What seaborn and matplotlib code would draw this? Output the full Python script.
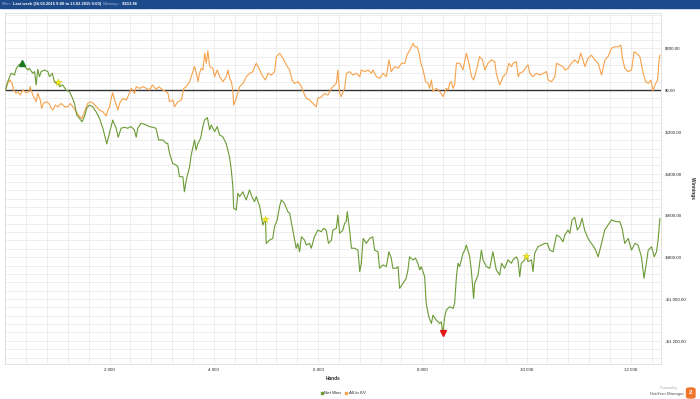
import matplotlib
matplotlib.use("Agg")
import matplotlib.pyplot as plt
import matplotlib.ticker as mticker
from matplotlib.lines import Line2D
from matplotlib.patches import Rectangle, FancyBboxPatch
import seaborn as sns
import pandas as pd

# Net Won (green) - hands / winnings
net_hands = [0, 45, 110, 175, 210, 260, 315, 365, 430, 460, 525, 560, 590, 620, 655, 685, 750, 815, 845, 900,
             940, 975, 1005, 1040, 1100, 1165, 1230, 1290, 1325, 1370, 1420, 1470, 1515, 1560, 1610, 1675, 1740,
             1805, 1870, 1945, 1995, 2060, 2125, 2165, 2220, 2285, 2345, 2410, 2475, 2510, 2540, 2605, 2700, 2765,
             2825, 2890, 2940, 3020, 3085, 3115, 3150, 3210, 3275, 3310, 3340, 3405, 3435, 3470, 3535, 3565, 3630,
             3660, 3695, 3745, 3790, 3820, 3875, 3920, 3950, 4015, 4065, 4110, 4170, 4235, 4300, 4335, 4365, 4380,
             4430, 4460, 4495, 4555, 4620, 4685, 4730, 4780, 4815, 4880, 4940, 4990, 5005, 5070, 5130, 5165, 5215,
             5260, 5295, 5355, 5420, 5455, 5515, 5550, 5580, 5610, 5645, 5680, 5740, 5775, 5835, 5870, 5930, 5995,
             6060, 6110, 6155, 6200, 6255, 6285, 6350, 6380, 6415, 6475, 6510, 6540, 6560, 6605, 6640, 6705, 6765,
             6800, 6830, 6865, 6925, 6990, 7050, 7085, 7150, 7180, 7245, 7310, 7360, 7405, 7435, 7500, 7535, 7565,
             7630, 7690, 7725, 7755, 7820, 7870, 7915, 7950, 7980, 8045, 8075, 8125, 8175, 8205, 8270, 8335, 8365,
             8395, 8430, 8460, 8525, 8590, 8620, 8655, 8685, 8715, 8750, 8780, 8815, 8845, 8910, 8940, 8985, 9005,
             9070, 9135, 9165, 9230, 9295, 9355, 9420, 9485, 9520, 9580, 9645, 9710, 9740, 9805, 9835, 9870, 9900,
             9965, 9985, 10030, 10095, 10125, 10155, 10220, 10285, 10350, 10400, 10445, 10510, 10575, 10635, 10700,
             10735, 10795, 10830, 10875, 10925, 10975, 11020, 11065, 11115, 11180, 11245, 11310, 11375, 11440,
             11500, 11565, 11630, 11725, 11790, 11835, 11885, 11950, 12015, 12080, 12140, 12205, 12255, 12300,
             12335, 12400, 12450, 12495, 12525, 12560]
net_won = [0, 40, 80, 72, 104, 120, 131, 115, 96, 104, 80, 88, 24, 99, 64, 88, 96, 88, 64, 80,
           40, 32, 37, 16, 24, 0, -8, -40, -64, -120, -135, -152, -128, -88, -72, -80, -104,
           -135, -183, -258, -207, -144, -183, -226, -183, -178, -183, -175, -191, -226, -183, -159, -167, -175,
           -178, -183, -239, -239, -255, -255, -303, -351, -359, -367, -415, -415, -487, -431, -367, -311, -239,
           -287, -255, -231, -175, -144, -132, -191, -167, -199, -175, -215, -223, -255, -319, -383, -463, -566,
           -574, -494, -510, -487, -526, -478, -510, -534, -510, -558, -646, -617, -734, -718, -710, -654, -622,
           -558, -526, -542, -582, -590, -670, -718, -757, -734, -774, -702, -718, -742, -734, -757, -702, -670,
           -678, -662, -670, -734, -718, -670, -662, -598, -686, -670, -638, -630, -582, -670, -757, -757, -766,
           -869, -829, -710, -734, -710, -702, -766, -774, -853, -837, -845, -774, -805, -853, -853, -845, -949,
           -925, -901, -861, -798, -813, -805, -829, -861, -845, -893, -1021, -1085, -1117, -1077, -1101, -1117, -1109,
           -1164, -1085, -1053, -1037, -1045, -1021, -893, -829, -845, -813, -782, -766, -742, -798, -861, -997, -925,
           -885, -766, -813, -845, -853, -774, -861, -885, -829, -853, -813, -829, -813, -798, -813, -893, -829,
           -813, -794, -821, -813, -869, -782, -750, -742, -734, -734, -766, -774, -694, -702, -726,
           -694, -670, -686, -622, -609, -670, -654, -614, -670, -710, -734, -757, -798, -734,
           -670, -646, -622, -630, -630, -662, -734, -710, -766, -734, -742, -798, -901, -829,
           -766, -750, -798, -774, -718, -614]

# All-In EV (orange)
ev_hands = [0, 45, 90, 130, 155, 205, 240, 285, 335, 400, 450, 475, 525, 560, 590, 620, 670, 695, 730, 785,
            835, 880, 910, 960, 1005, 1070, 1135, 1200, 1245, 1295, 1360, 1425, 1465, 1520, 1580, 1630, 1690,
            1745, 1805, 1870, 1935, 1965, 2000, 2030, 2060, 2095, 2160, 2190, 2255, 2320, 2350, 2415, 2480, 2510,
            2575, 2640, 2705, 2765, 2820, 2895, 2945, 3020, 3085, 3120, 3150, 3215, 3245, 3310, 3375, 3425, 3470,
            3535, 3565, 3630, 3665, 3695, 3725, 3760, 3790, 3825, 3855, 3885, 3920, 3980, 4015, 4065, 4110, 4175,
            4240, 4270, 4305, 4335, 4365, 4380, 4430, 4495, 4560, 4625, 4685, 4750, 4785, 4815, 4880, 4940, 4990,
            5040, 5105, 5165, 5200, 5265, 5325, 5390, 5455, 5500, 5550, 5615, 5680, 5730, 5775, 5840, 5900, 5965,
            5995, 6065, 6125, 6190, 6255, 6285, 6350, 6380, 6415, 6445, 6480, 6510, 6545, 6605, 6670, 6735, 6800,
            6830, 6895, 6960, 7025, 7055, 7120, 7185, 7245, 7310, 7360, 7405, 7470, 7535, 7600, 7665, 7705, 7760,
            7825, 7855, 7900, 7940, 7965, 8015, 8065, 8110, 8140, 8175, 8205, 8270, 8335, 8400, 8460, 8495, 8525,
            8560, 8590, 8620, 8655, 8720, 8750, 8780, 8845, 8895, 8945, 8985, 9040, 9100, 9155, 9200, 9260, 9325,
            9390, 9420, 9455, 9485, 9550, 9615, 9660, 9710, 9740, 9805, 9840, 9870, 9935, 10000, 10030, 10065,
            10125, 10190, 10255, 10320, 10385, 10415, 10480, 10545, 10575, 10640, 10700, 10735, 10800, 10860,
            10925, 10990, 11040, 11085, 11120, 11180, 11245, 11310, 11375, 11440, 11505, 11565, 11630, 11695,
            11760, 11810, 11835, 11885, 11950, 12015, 12065, 12110, 12175, 12240, 12285, 12335, 12385, 12425,
            12465, 12515, 12545, 12560]
ev_won = [0, 32, 48, 32, 0, -16, -8, -24, 0, -13, -8, 16, -24, -40, -56, -16, -48, -88, -64, -56,
          -64, -88, -96, -72, -80, -64, -80, -80, -64, -80, -104, -128, -136, -104, -64, -56, -64,
          -80, -96, -104, -124, -96, -80, -40, -13, -48, -96, -64, -40, -48, -32, 8, -16, 16,
          8, 16, 8, 0, 24, 3, 16, 0, -8, -16, -56, -48, -80, -56, -48, 8, 16,
          40, 64, 112, 80, 40, 80, 104, 96, 176, 128, 188, 112, 104, 64, 96, 64, 40,
          64, 96, 56, 40, 0, -72, -40, 16, 32, 64, 80, 88, 112, 128, 96, 64, 48,
          80, 72, 88, 160, 176, 152, 120, 96, 48, 32, 40, 16, -16, -40, -48, -64, -80,
          -40, -32, -16, -24, 8, 16, 32, 96, -16, -32, -8, 8, 80, 88, 72, 80, 64,
          96, 88, 96, 80, 96, 64, 56, 80, 64, 144, 88, 112, 104, 128, 128, 167, 191,
          223, 207, 207, 176, 136, 96, 40, 32, 8, 48, -8, 8, -8, -32, 8, 0, 32,
          40, 8, 24, 128, 128, 112, 96, 176, 128, 64, 48, 96, 160, 144, 96, 128, 144,
          136, 80, 48, 24, 64, 80, 128, 112, 128, 136, 64, 80, 88, 112, 120, 80,
          64, 80, 72, 80, 88, 48, 40, 64, 128, 120, 112, 96, 104, 128,
          144, 128, 176, 144, 112, 152, 167, 144, 128, 72, 144, 160, 200, 207,
          207, 215, 160, 104, 88, 96, 183, 176, 160, 80, 40, 32, 48, -3,
          24, 48, 144, 167]

star_hands = [1005, 4990, 9985]
star_won = [37, -617, -794]

title_parts = ["Filter:", "Last week (16.02.2015 9:00 to 23.02.2015 9:00)", "Winnings:", "-$613.86"]

GREEN = "#6b9a34"
ORANGE = "#f7a24b"

sns.set_style("white")
plt.rcParams["font.family"] = ["Liberation Sans", "DejaVu Sans"]

W, H = 700, 399
fig = plt.figure(figsize=(W / 100, H / 100), dpi=100)
ax = fig.add_axes([5.4 / W, 1 - 364 / H, (660.7 - 5.4) / W, (364 - 12.7) / H])

net_df = pd.DataFrame({"Hands": net_hands, "Winnings": net_won})
ev_df = pd.DataFrame({"Hands": ev_hands, "Winnings": ev_won})

ax.axhline(0, color="#333333", lw=1.0, zorder=1)
sns.lineplot(data=ev_df, x="Hands", y="Winnings", ax=ax, color=ORANGE, lw=0.8,
             estimator=None, sort=False, zorder=2)
sns.lineplot(data=net_df, x="Hands", y="Winnings", ax=ax, color=GREEN, lw=0.8,
             estimator=None, sort=False, zorder=3)

# max / min markers
i_max = net_won.index(max(net_won))
i_min = net_won.index(min(net_won))
ax.plot(net_hands[i_max], net_won[i_max], marker="^", ms=4.5, color="#1e7a1e", zorder=5)
ax.plot(net_hands[i_min], net_won[i_min], marker="v", ms=4.5, color="#e01818", zorder=5)
sns.scatterplot(x=star_hands, y=star_won, ax=ax, marker="*", s=28, color="#f2ee1a",
                edgecolor="#c9b800", linewidth=0.3, zorder=6)

ax.set_xlim(0, 12575)
ax.set_ylim(-1311, 370)

ax.xaxis.set_major_locator(mticker.MultipleLocator(2000))
ax.xaxis.set_minor_locator(mticker.MultipleLocator(400))
ax.yaxis.set_major_locator(mticker.MultipleLocator(200))
ax.yaxis.set_minor_locator(mticker.MultipleLocator(40))
ax.xaxis.set_major_formatter(mticker.FuncFormatter(lambda v, p: f"{int(v):,}".replace(",", " ") if v > 0 else ""))


def money(v, p):
    s = f"{abs(v):,.2f}".replace(",", " ")
    return ("-$" if v < 0 else "$") + s


ax.yaxis.set_major_formatter(mticker.FuncFormatter(money))
ax.yaxis.tick_right()
ax.yaxis.set_label_position("right")
ax.grid(which="both", color="#ebebeb", lw=0.6)
ax.set_axisbelow(True)
ax.tick_params(which="both", length=0, labelsize=3.2, colors="#222222", pad=3)
for s in ax.spines.values():
    s.set_color("#dddddd")
    s.set_linewidth(0.6)

ax.set_xlabel("Hands", fontsize=3.4, fontweight="bold", labelpad=3)
ax.set_ylabel("Winnings", fontsize=3.4, fontweight="bold", rotation=270, labelpad=3, va="bottom")

# header bar
bar_h = 7.5 / H
fig.patches.append(Rectangle((0, 1 - bar_h), 1, bar_h, transform=fig.transFigure,
                             color="#1c4a8b", zorder=0))
styles = [("#9fb6d6", "normal"), ("white", "bold"), ("#9fb6d6", "normal"), ("white", "bold")]
renderer = fig.canvas.get_renderer()
x = 1.5
for txt, (c, w) in zip(title_parts, styles):
    t = fig.text(x / W, 1 - 3.9 / H, txt, color=c, fontweight=w, fontsize=2.9, va="center", ha="left")
    x += t.get_window_extent(renderer).width + 1.5

# legend
handles = [Line2D([], [], ls="", marker="s", ms=1.8, color=GREEN),
           Line2D([], [], ls="", marker="s", ms=1.8, color=ORANGE)]
fig.legend(handles, ["Net Won", "All-In EV"], loc="center", bbox_to_anchor=(343 / W, 1 - 393 / H),
           ncol=2, frameon=False, fontsize=3.2, handlelength=0.6, handletextpad=0.3,
           columnspacing=0.8, borderaxespad=0)

# branding
fig.text(677 / W, 1 - 387.5 / H, "Powered by", fontsize=2.3, color="#aaaaaa", ha="right", va="center")
fig.text(684 / W, 1 - 393.5 / H, "Hold'em Manager", fontsize=3.2, color="#555555", ha="right", va="center")
fig.patches.append(FancyBboxPatch((686.5 / W, 1 - 398 / H), 8.5 / W, 10 / H, transform=fig.transFigure,
                                  boxstyle="round,pad=0,rounding_size=0.004", color="#f0762c"))
fig.text(690.7 / W, 1 - 393 / H, "2", fontsize=4.5, color="white", fontweight="bold", ha="center", va="center")

fig.savefig("out.png", dpi=100)
